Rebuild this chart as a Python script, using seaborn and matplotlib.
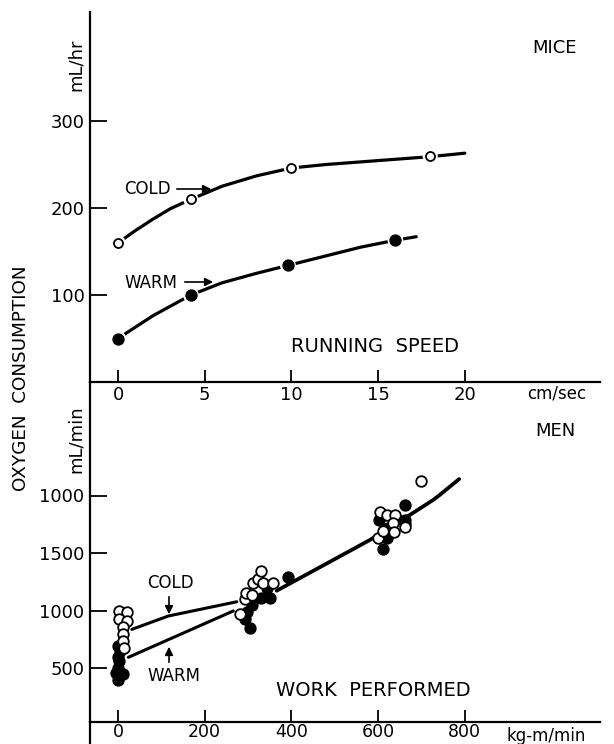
import matplotlib
matplotlib.use("Agg")
import matplotlib.pyplot as plt
import seaborn as sns
import pandas as pd
from matplotlib.lines import Line2D
from matplotlib.patches import FancyArrowPatch

sns.set_style("ticks")
plt.rcParams['font.family'] = ['DejaVu Sans']

# ---------------- MICE (top panel) ----------------
mice_speed_cold = [0, 4.2, 10, 18]
mice_o2_cold = [160, 210, 246, 260]
mice_speed_warm = [0, 4.2, 9.8, 16]
mice_o2_warm = [50, 100, 134, 163]
# hand-drawn fitted curves
mice_curve_cold_x = [0, 1, 2, 3, 4.2, 6, 8, 10, 12, 14, 16, 18, 20]
mice_curve_cold_y = [160, 174, 187, 199, 210, 225, 237, 246, 250, 253, 256, 259, 263]
mice_curve_warm_x = [0, 2, 4.2, 6, 8, 9.8, 12, 14, 16, 17.2]
mice_curve_warm_y = [50, 76, 100, 114, 125, 134, 145, 155, 163, 167]
mice_xticks = [0, 5, 10, 15, 20]
mice_yticks = [100, 200, 300]

# ---------------- MEN (bottom panel) ----------------
men_work_cold = [3, 20, 3, 20, 11, 11, 11, 14,
                 281, 293, 295, 310, 312, 324, 329, 334, 357,
                 600, 604, 620, 639, 634, 662, 637, 612,
                 700]
men_o2_cold = [996, 990, 926, 911, 854, 793, 737, 671,
               970, 1097, 1155, 1135, 1236, 1278, 1340, 1236, 1242,
               1628, 1859, 1830, 1830, 1760, 1726, 1685, 1690,
               2130]
men_work_warm = [0, 5, 0, 2, 0, -5, 12, 0,
                 297, 308, 293, 305, 343, 331, 351, 393,
                 603, 611, 616, 620, 662, 662, 662, 622]
men_o2_warm = [690, 650, 600, 560, 500, 460, 450, 400,
               990, 1048, 923, 845, 1193, 1112, 1112, 1294,
               1787, 1532, 1674, 1628, 1917, 1790, 1750, 1720]
men_line_cold_x = [32, 116, 274]
men_line_cold_y = [836, 952, 1076]
men_line_warm_x = [24, 266]
men_line_warm_y = [593, 996]
men_line_main_x = [366, 470, 581, 685, 727, 742, 787]
men_line_main_y = [1172, 1385, 1613, 1859, 1961, 2004, 2143]
men_xticks = [0, 200, 400, 600, 800]
men_yticks = [500, 1000, 1500, 2000]
men_yticklabels = ["500", "1000", "1500", "1000"]

W, H = 614, 744
fig = plt.figure(figsize=(W / 100, H / 100), dpi=100)

def fx(px):
    return px / W

def fy(py):
    return 1 - py / H

ax2 = fig.add_axes([fx(90), fy(722), fx(600) - fx(90), fy(382) - fy(722)])
ax1 = fig.add_axes([fx(90), fy(382), fx(600) - fx(90), fy(12) - fy(382)])
ax1.patch.set_visible(False)
ax2.patch.set_visible(False)
ax1.set_zorder(3)

lw_spine = 1.6
for ax in (ax1, ax2):
    for s in ("top", "right"):
        ax.spines[s].set_visible(False)
    for s in ("left", "bottom"):
        ax.spines[s].set_linewidth(lw_spine)
        ax.spines[s].set_color("black")
    ax.tick_params(axis="x", direction="in", length=9, width=1.3, pad=3,
                   labelsize=13, colors="black")
    ax.tick_params(axis="y", direction="in", length=12, width=1.3, pad=4,
                   labelsize=13, colors="black")

# extension of the left axis below the lower x axis
fig.add_artist(Line2D([fx(90), fx(90)], [fy(722), fy(744)], color="black",
                      lw=lw_spine, transform=fig.transFigure))

# ---- top panel
df_cc = pd.DataFrame({"x": mice_curve_cold_x, "y": mice_curve_cold_y})
df_cw = pd.DataFrame({"x": mice_curve_warm_x, "y": mice_curve_warm_y})
sns.lineplot(data=df_cc, x="x", y="y", ax=ax1, color="black", lw=2.3,
             sort=False, estimator=None)
sns.lineplot(data=df_cw, x="x", y="y", ax=ax1, color="black", lw=2.3,
             sort=False, estimator=None)
# white halo so the line breaks around each point, as in the drawing
ax1.scatter(mice_speed_cold, mice_o2_cold, s=120, facecolor="white",
            edgecolor="none", zorder=4)
ax1.scatter(mice_speed_warm, mice_o2_warm, s=130, facecolor="white",
            edgecolor="none", zorder=4)
ax1.scatter(mice_speed_cold, mice_o2_cold, s=42, facecolor="white",
            edgecolor="black", linewidths=1.3, zorder=5)
ax1.scatter(mice_speed_warm, mice_o2_warm, s=62, facecolor="black",
            edgecolor="black", linewidths=1, zorder=5)
ax1.set_xlim((90 - 118) / 17.34, (600 - 118) / 17.34)
ax1.set_ylim(0, (382 - 12) / 0.87)
ax1.set_xticks(mice_xticks)
ax1.set_xticklabels([str(v) for v in mice_xticks])
ax1.set_yticks(mice_yticks)
ax1.set_yticklabels([str(v) for v in mice_yticks])
ax1.set_xlabel("")
ax1.set_ylabel("")

# ---- bottom panel
sns.lineplot(x=men_line_cold_x, y=men_line_cold_y, ax=ax2, color="black",
             lw=2.2, sort=False, estimator=None)
sns.lineplot(x=men_line_warm_x, y=men_line_warm_y, ax=ax2, color="black",
             lw=2.2, sort=False, estimator=None)
sns.lineplot(x=men_line_main_x, y=men_line_main_y, ax=ax2, color="black",
             lw=2.7, sort=False, estimator=None)
ax2.scatter(men_work_cold, men_o2_cold, s=58, facecolor="white",
            edgecolor="black", linewidths=1.3, zorder=5)
ax2.scatter(men_work_warm, men_o2_warm, s=62, facecolor="black",
            edgecolor="black", linewidths=1, zorder=4)
ax2.set_xlim((90 - 118) * 2.307, (600 - 118) * 2.307)
ax2.set_ylim(500 - (722 - 668) / 0.115, 500 + (668 - 382) / 0.115)
ax2.set_xticks(men_xticks)
ax2.set_xticklabels([str(v) for v in men_xticks])
ax2.set_yticks(men_yticks)
ax2.set_yticklabels(men_yticklabels)
ax2.tick_params(axis="x", pad=1, labelsize=12.5)
ax2.set_xlabel("")
ax2.set_ylabel("")

# ---- texts
tk = dict(color="black", transform=fig.transFigure)
fig.text(fx(555), fy(48), "MICE", fontsize=13, ha="center", va="center", **tk)
fig.text(fx(555), fy(431), "MEN", fontsize=13, ha="center", va="center", **tk)
fig.text(fx(76), fy(65), "mL/hr", fontsize=13, rotation=90, ha="center",
         va="center", **tk)
fig.text(fx(76), fy(439), "mL/min", fontsize=13, rotation=90, ha="center",
         va="center", **tk)
fig.text(fx(21), fy(378), "OXYGEN  CONSUMPTION", fontsize=13.2, rotation=90,
         ha="center", va="center", **tk)
fig.text(fx(375), fy(347), "RUNNING  SPEED", fontsize=14,
         ha="center", va="center", **tk)
fig.text(fx(373), fy(691), "WORK  PERFORMED", fontsize=14,
         ha="center", va="center", **tk)
fig.text(fx(557), fy(394), "cm/sec", fontsize=12, ha="center", va="center", **tk)
fig.text(fx(546), fy(736), "kg-m/min", fontsize=12, ha="center", va="center", **tk)

fig.text(fx(124), fy(189), "COLD", fontsize=12, ha="left", va="center", **tk)
fig.text(fx(124), fy(283), "WARM", fontsize=12, ha="left", va="center", **tk)
fig.text(fx(147), fy(583), "COLD", fontsize=12, ha="left", va="center", **tk)
fig.text(fx(147), fy(676), "WARM", fontsize=12, ha="left", va="center", **tk)

arrow = dict(arrowstyle="-|>", color="black", lw=1.2, mutation_scale=12)
fig.add_artist(FancyArrowPatch(
    (fx(174), fy(189)), (fx(214), fy(189)), transform=fig.transFigure, **arrow))
fig.add_artist(FancyArrowPatch(
    (fx(182), fy(282)), (fx(216), fy(282)), transform=fig.transFigure, **arrow))
fig.add_artist(FancyArrowPatch(
    (fx(169), fy(594)), (fx(169), fy(617)), transform=fig.transFigure, **arrow))
fig.add_artist(FancyArrowPatch(
    (fx(169), fy(665)), (fx(169), fy(644)), transform=fig.transFigure, **arrow))

fig.savefig("out.png", dpi=100, facecolor="white")
